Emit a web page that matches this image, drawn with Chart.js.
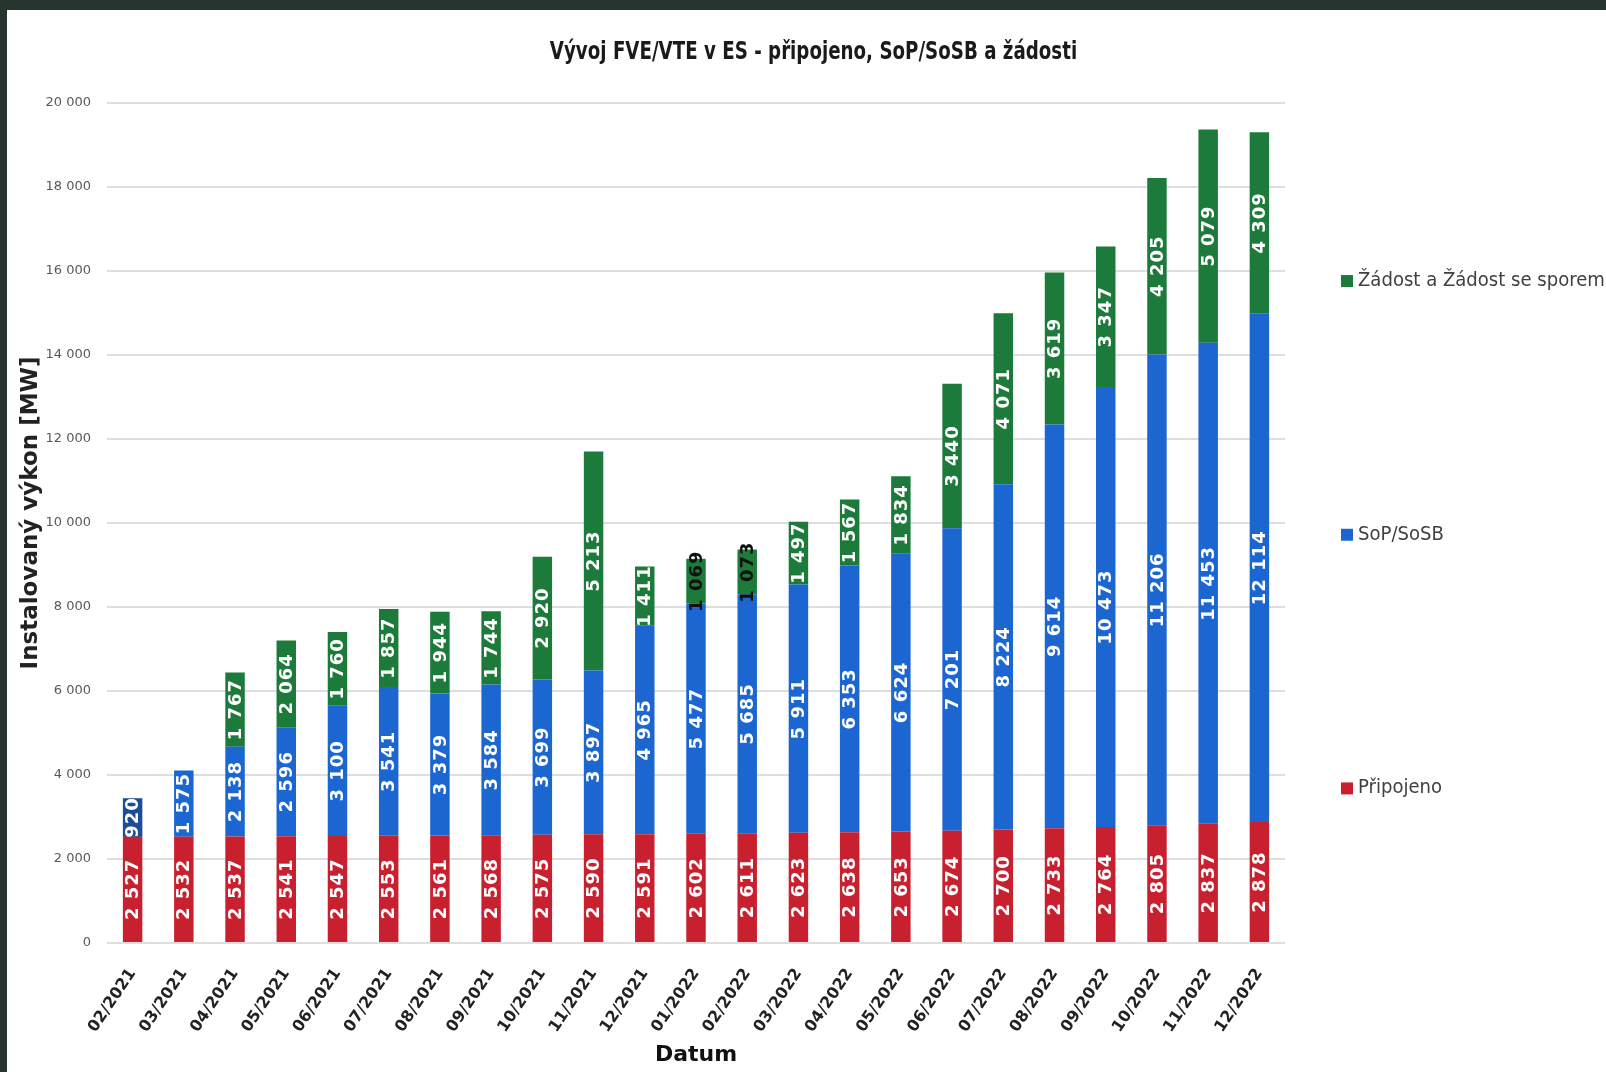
<!DOCTYPE html>
<html>
<head>
<meta charset="utf-8">
<script src="https://cdn.jsdelivr.net/npm/chart.js@4/dist/chart.umd.min.js"></script>
<style>
  html, body { margin: 0; padding: 0; }
  body { width: 1606px; height: 1072px; background: #26362f; position: relative; overflow: hidden; }
  #panel { position: absolute; left: 7px; top: 10px; width: 1599px; height: 1062px; background: #fff; }
</style>
</head>
<body>
<div id="panel"><canvas id="myChart" width="1599" height="1062"></canvas></div>
<script>
// data
const months = ['02/2021', '03/2021', '04/2021', '05/2021', '06/2021', '07/2021', '08/2021', '09/2021',
  '10/2021', '11/2021', '12/2021', '01/2022', '02/2022', '03/2022', '04/2022', '05/2022', '06/2022',
  '07/2022', '08/2022', '09/2022', '10/2022', '11/2022', '12/2022'];
const pripojeno = [2527, 2532, 2537, 2541, 2547, 2553, 2561, 2568, 2575, 2590, 2591, 2602, 2611, 2623,
  2638, 2653, 2674, 2700, 2733, 2764, 2805, 2837, 2878];
const sopSosb = [920, 1575, 2138, 2596, 3100, 3541, 3379, 3584, 3699, 3897, 4965, 5477, 5685, 5911,
  6353, 6624, 7201, 8224, 9614, 10473, 11206, 11453, 12114];
const zadosti = [0, 0, 1767, 2064, 1760, 1857, 1944, 1744, 2920, 5213, 1411, 1069, 1073, 1497,
  1567, 1834, 3440, 4071, 3619, 3347, 4205, 5079, 4309];
const yMax = 20000;
const yStep = 2000;

const titleText = 'Vývoj FVE/VTE v ES - připojeno, SoP/SoSB a žádosti';
const yTitleText = 'Instalovaný výkon [MW]';
const sans = "'DejaVu Sans', sans-serif";

const red = '#c8202f';
const blue = '#1b66d0';
const green = '#1c7a3a';
// prvni sloupec SoP/SoSB je v originale tmavsi
const blueBars = sopSosb.map((v, i) => i === 0 ? '#1d4c98' : blue);

function fmt(n) {
  return String(n).replace(/\B(?=(\d{3})+(?!\d))/g, ' ');
}

// nadpis a popis osy y - uzsi pismo pres scale
const texts = {
  id: 'texts',
  afterDraw(chart) {
    const ctx = chart.ctx;
    ctx.save();
    ctx.translate(chart.width / 2 + 7, 43);
    ctx.scale(0.76, 1);
    ctx.font = 'bold 24px ' + sans;
    ctx.fillStyle = '#1a1a1a';
    ctx.textAlign = 'center';
    ctx.textBaseline = 'middle';
    ctx.fillText(titleText, 0, 0);
    ctx.restore();

    ctx.save();
    ctx.translate(24, 503);
    ctx.rotate(-Math.PI / 2);
    ctx.font = 'bold 23px ' + sans;
    ctx.fillStyle = '#222';
    ctx.textAlign = 'center';
    ctx.textBaseline = 'middle';
    ctx.fillText(yTitleText, 0, 0);
    ctx.restore();
  }
};

// popisky hodnot uvnitr sloupcu
const barLabels = {
  id: 'barLabels',
  afterDatasetsDraw(chart) {
    const ctx = chart.ctx;
    chart.data.datasets.forEach((ds, i) => {
      const meta = chart.getDatasetMeta(i);
      meta.data.forEach((bar, j) => {
        const v = ds.data[j];
        if (!v) return;
        const p = bar.getProps(['x', 'y', 'base'], true);
        ctx.save();
        ctx.translate(p.x, (p.y + p.base) / 2);
        ctx.rotate(-Math.PI / 2);
        ctx.font = 'bold 18px ' + sans;
        ctx.letterSpacing = '1px';
        ctx.textAlign = 'center';
        ctx.textBaseline = 'middle';
        ctx.fillStyle = (i === 2 && v < 1100) ? '#111' : '#fff';
        ctx.fillText(fmt(v), 0, 1);
        ctx.restore();
      });
    });
  }
};

// legenda vpravo, rozlozena po vysce grafu
const sideLegend = {
  id: 'sideLegend',
  afterDraw(chart) {
    const ctx = chart.ctx;
    const a = chart.chartArea;
    const h = a.bottom - a.top;
    const order = [2, 1, 0];
    const cols = [red, blue, green];
    order.forEach((di, k) => {
      const ds = chart.data.datasets[di];
      const y = a.top + h * (0.212 + k * 0.302);
      const x = a.right + 56;
      ctx.save();
      ctx.fillStyle = cols[di];
      ctx.fillRect(x, y - 6, 12, 12);
      ctx.fillStyle = '#404040';
      ctx.font = '19px ' + sans;
      ctx.textBaseline = 'middle';
      ctx.translate(x + 17, y);
      ctx.scale(0.95, 1);
      ctx.fillText(ds.label, 0, 0);
      ctx.restore();
    });
  }
};

const ctx1 = document.getElementById('myChart');

new Chart(ctx1, {
  type: 'bar',
  data: {
    labels: months,
    datasets: [{
      label: 'Připojeno',
      data: pripojeno,
      backgroundColor: red
    }, {
      label: 'SoP/SoSB',
      data: sopSosb,
      backgroundColor: blueBars
    }, {
      label: 'Žádost a Žádost se sporem',
      data: zadosti,
      backgroundColor: green
    }]
  },
  options: {
    responsive: false,
    animation: false,
    datasets: {
      bar: { barPercentage: 0.38, categoryPercentage: 1 }
    },
    layout: { padding: { left: 34, right: 321, top: 93, bottom: 0 } },
    plugins: {
      legend: { display: false },
      tooltip: { enabled: false },
      title: { display: false }
    },
    scales: {
      x: {
        stacked: true,
        grid: { display: false },
        border: { display: false },
        ticks: {
          color: '#222',
          font: { family: sans, size: 16, weight: 'bold' },
          minRotation: 56,
          maxRotation: 56,
          padding: 14
        },
        title: {
          display: true,
          text: 'Datum',
          color: '#111',
          font: { family: sans, size: 22, weight: 'bold' },
          padding: { top: 0, bottom: 4 }
        },
        afterFit(scale) { scale.height = 129; }
      },
      y: {
        stacked: true,
        min: 0,
        max: yMax,
        grid: { color: '#dedede', lineWidth: 2, drawTicks: false },
        border: { display: false },
        ticks: {
          stepSize: yStep,
          color: '#595959',
          padding: 16,
          font: { family: sans, size: 13 },
          callback: v => fmt(v)
        },
        afterFit(scale) { scale.width = 66; }
      }
    }
  },
  plugins: [barLabels, sideLegend, texts]
});
</script>
</body>
</html>
